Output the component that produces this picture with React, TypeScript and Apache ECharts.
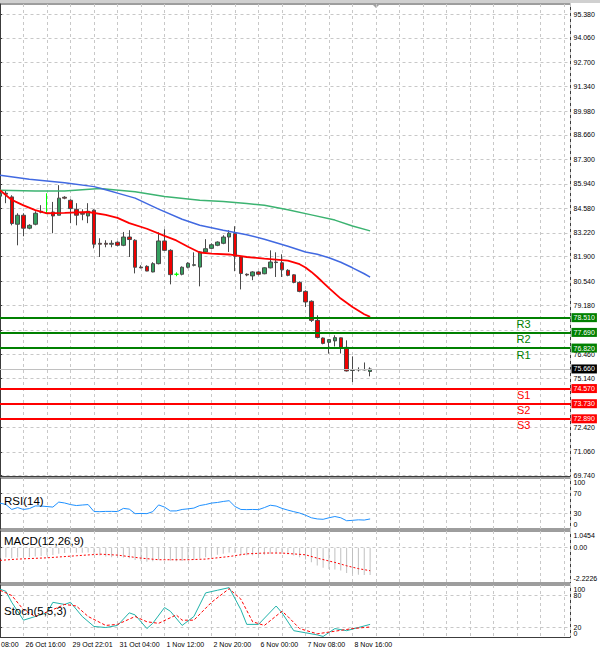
import React, { useEffect, useRef } from "react";
import * as echarts from "echarts";

const FONT = "'Liberation Sans', Arial, sans-serif";

// ---- data ----
const timeLabels = [
  "25 Oct 08:00", "26 Oct 16:00", "29 Oct 22:01", "31 Oct 04:00", "1 Nov 12:00",
  "2 Nov 20:00", "6 Nov 00:00", "7 Nov 08:00", "8 Nov 16:00",
];

const priceTicks = [95.38, 94.06, 92.7, 91.34, 89.98, 88.66, 87.3, 85.94, 84.58, 83.22, 81.9, 80.54, 79.18, 77.82, 76.46, 75.14, 73.78, 72.42, 71.06, 69.74];
const priceTicksHidden = [77.82, 73.78];

// [open, close, low, high] per H4 bar
const candles: number[][] = [
  [85.26, 85.42, 85.15, 85.65],
  [85.42, 85.37, 84.87, 85.59],
  [85.22, 83.74, 83.64, 85.31],
  [83.70, 84.20, 82.53, 84.31],
  [84.20, 83.48, 83.03, 84.31],
  [83.48, 83.64, 83.42, 83.70],
  [83.70, 84.31, 83.64, 84.42],
  [84.37, 84.42, 84.31, 84.76],
  [84.31, 84.31, 84.28, 85.42],
  [84.38, 84.16, 83.20, 84.94],
  [84.20, 85.15, 84.20, 85.87],
  [85.20, 85.15, 85.09, 85.26],
  [85.03, 84.57, 83.76, 85.09],
  [84.53, 84.20, 83.64, 84.87],
  [84.31, 84.26, 83.92, 84.53],
  [84.16, 84.42, 83.76, 84.87],
  [84.48, 82.59, 82.36, 84.53],
  [82.64, 82.59, 81.88, 82.92],
  [82.64, 82.59, 82.42, 82.81],
  [82.59, 82.64, 82.42, 82.81],
  [82.70, 82.53, 82.48, 82.75],
  [82.53, 82.99, 82.48, 83.27],
  [82.99, 82.85, 81.88, 83.37],
  [82.81, 81.31, 80.97, 82.87],
  [81.32, 81.28, 81.25, 81.42],
  [81.36, 81.10, 81.09, 81.42],
  [81.05, 81.51, 81.03, 81.59],
  [81.51, 82.77, 81.47, 83.25],
  [82.77, 82.25, 82.22, 83.42],
  [82.25, 80.90, 80.36, 82.31],
  [80.92, 80.92, 80.81, 81.03],
  [80.92, 81.31, 80.86, 81.36],
  [81.31, 81.53, 81.25, 81.59],
  [81.42, 81.45, 81.36, 82.14],
  [81.32, 82.16, 80.25, 82.20],
  [82.16, 82.34, 82.14, 82.87],
  [82.36, 82.56, 82.31, 82.64],
  [82.53, 82.71, 82.48, 82.75],
  [82.64, 82.99, 82.59, 83.09],
  [82.99, 83.20, 82.16, 83.37],
  [83.18, 81.92, 81.09, 83.59],
  [81.88, 80.96, 80.08, 81.92],
  [80.92, 80.88, 80.81, 80.97],
  [80.83, 81.05, 80.59, 81.09],
  [81.05, 80.92, 80.86, 81.09],
  [80.95, 81.28, 80.92, 81.31],
  [81.28, 81.60, 81.25, 82.25],
  [81.60, 81.57, 80.77, 82.14],
  [81.56, 81.17, 80.77, 82.03],
  [81.14, 80.86, 80.81, 81.20],
  [80.89, 80.47, 80.42, 80.92],
  [80.47, 79.97, 79.92, 80.53],
  [79.97, 79.38, 79.10, 80.03],
  [79.42, 78.36, 78.27, 79.47],
  [78.36, 77.41, 77.36, 78.64],
  [77.38, 77.08, 77.03, 77.41],
  [77.14, 77.29, 76.51, 77.30],
  [77.22, 77.40, 76.91, 77.53],
  [77.39, 76.86, 76.52, 77.41],
  [76.86, 75.55, 75.52, 77.25],
  [75.58, 75.61, 74.93, 76.36],
  [75.61, 75.63, 75.52, 75.75],
  [75.63, 75.61, 75.58, 76.02],
  [75.52, 75.66, 75.25, 75.75],
];

// moving averages as [bar, value]
const maRed: number[][] = [
  [0, 85.59], [2, 85.05], [4, 84.75], [6, 84.48], [8, 84.31], [11, 84.33], [15, 84.38], [18, 84.22],
  [20, 84.05], [22, 83.76], [25, 83.45], [28, 83.05], [30, 82.8], [32, 82.45], [34, 82.13], [36, 82.07],
  [39, 82.02], [42, 81.88], [45, 81.79], [49, 81.68], [51, 81.48], [52, 81.3], [53, 81.05], [54, 80.77],
  [56, 80.15], [58, 79.57], [60, 79.1], [62, 78.7], [63, 78.55],
];
const maBlue: number[][] = [
  [0, 86.42], [5, 86.2], [11, 86.01], [16, 85.79], [18, 85.62], [20, 85.43], [23, 85.15], [27, 84.54],
  [31, 83.98], [34, 83.64], [38, 83.37], [42, 83.12], [45, 82.87], [49, 82.48], [52, 82.16], [54, 82.03],
  [56, 81.84], [58, 81.59], [60, 81.28], [62, 80.95], [63, 80.76],
];
const maGreen: number[][] = [
  [0, 85.59], [6, 85.55], [11, 85.55], [17, 85.68], [23, 85.5], [28, 85.24], [34, 85.03], [38, 84.97],
  [42, 84.85], [45, 84.76], [49, 84.5], [53, 84.22], [57, 83.93], [60, 83.6], [63, 83.33],
];

const levelNames = ["R3", "R2", "R1", "S1", "S2", "S3"];
const levelValues = [78.51, 77.69, 76.82, 74.57, 73.73, 72.89];
const lastPrice = 75.66;

const rsiValues = [
  50.8, 48, 38.3, 42, 38.3, 40, 45.2, 45, 44, 43, 52.8, 51, 47.9, 46, 47, 47.9,
  34.2, 34, 34.5, 34.5, 34.2, 40.4, 39, 30.1, 30.5, 30.1, 34, 47.2, 43, 35.4, 35.5, 38.3,
  39.5, 41, 46, 48, 50.8, 52, 54, 55.5, 44, 38.3, 38, 38.3, 38, 42, 46.6, 45,
  40.4, 37, 34, 31.3, 27, 22, 19.7, 19, 22, 24.5, 22, 16.2, 17, 18, 17.5, 19.7,
];
const rsiRange = [0, 100];
const rsiLevels = [70, 30];

const macdHist = [
  -0.66, -0.62, -0.66, -0.62, -0.62, -0.6, -0.56, -0.52, -0.48, -0.46, -0.38, -0.33, -0.32, -0.32, -0.32, -0.3,
  -0.42, -0.5, -0.56, -0.6, -0.62, -0.62, -0.66, -0.78, -0.84, -0.88, -0.86, -0.76, -0.72, -0.82, -0.86, -0.84,
  -0.8, -0.76, -0.68, -0.6, -0.52, -0.45, -0.38, -0.3, -0.34, -0.44, -0.48, -0.48, -0.48, -0.44, -0.38, -0.36,
  -0.38, -0.42, -0.5, -0.6, -0.74, -0.92, -1.12, -1.26, -1.34, -1.38, -1.44, -1.6, -1.66, -1.7, -1.72, -1.72,
];
const macdSignal: number[][] = [
  [0, -0.8], [3, -0.72], [8, -0.64], [13, -0.51], [17, -0.41], [20, -0.47], [24, -0.66], [27, -0.76],
  [32, -0.76], [35, -0.72], [39, -0.56], [42, -0.39], [45, -0.34], [48, -0.34], [52, -0.45], [54, -0.66],
  [57, -0.93], [59, -1.14], [61, -1.32], [63, -1.45],
];
const macdRange = [-2.2226, 1.0454];
const macdLevels = [0];

const stochMain: number[][] = [
  [0, 92], [1, 88], [2, 67], [4, 33], [6, 40], [8, 47], [9, 67], [11, 63], [12, 67], [14, 40], [16, 21],
  [18, 19], [20, 23], [22, 47], [23, 43], [25, 17], [26, 27], [28, 57], [29, 50], [31, 23], [33, 40],
  [35, 85], [37, 90], [39, 95], [41, 53], [42, 25], [44, 25], [47, 60], [48, 47], [50, 13], [52, 9],
  [54, 5], [55, 2], [57, 17], [59, 13], [61, 19], [63, 25],
];
const stochSignal: number[][] = [
  [0, 90], [2, 80], [4, 53], [6, 40], [9, 53], [11, 63], [13, 60], [15, 40], [18, 23], [20, 25], [23, 40],
  [25, 30], [27, 27], [30, 43], [31, 33], [33, 33], [36, 67], [39, 93], [41, 73], [43, 30], [45, 23],
  [48, 50], [49, 40], [51, 17], [54, 7], [57, 12], [60, 17], [63, 20],
];
const stochRange = [0, 100];
const stochLevels = [80, 20];

// ---- layout ----
const BAR_PX = 5.875;
const X_MIN = -4;
const PLOT_RIGHT = 570.5;
const X_MAX = PLOT_RIGHT / BAR_PX;
const GRID_LEFT = X_MIN * BAR_PX;
const GRID_WIDTH = PLOT_RIGHT - GRID_LEFT;
const GRID_LINE = { color: "#c8c8c8", type: [3, 3] as number[], width: 1 };
const FRAME = "#3c3c3c";

export default function App() {
  const ref = useRef<HTMLDivElement>(null);

  useEffect(() => {
    if (!ref.current) return;
    const chart = echarts.init(ref.current, undefined, { renderer: "svg" });

    const gridBoxes = [
      { top: 4, height: 472.5 },
      { top: 478, height: 51 },
      { top: 531, height: 52 },
      { top: 585, height: 52.5 },
    ];
    const grid = gridBoxes.map((g) => ({
      ...g,
      left: GRID_LEFT,
      width: GRID_WIDTH,
      show: true,
      borderColor: FRAME,
      borderWidth: 1,
      backgroundColor: "transparent",
      containLabel: false,
      outerBoundsMode: "none",
    }));

    const xFormatter = (v: number) => {
      const r = Math.round(v);
      if (Math.abs(v - r) > 1e-6) return "";
      const k = (r - X_MIN) / 8;
      return Number.isInteger(k) && timeLabels[k] ? timeLabels[k] : "";
    };

    const xAxis = gridBoxes.map((_, i) => ({
      type: "value",
      gridIndex: i,
      min: X_MIN,
      max: X_MAX,
      interval: 4,
      axisLine: { show: false },
      axisTick: { show: false },
      splitLine: { show: true, lineStyle: GRID_LINE },
      axisLabel:
        i === 3
          ? {
              show: true,
              fontSize: 7,
              fontFamily: FONT,
              color: "#000",
              margin: 3,
              align: "left",
              padding: [0, 0, 0, 2],
              showMinLabel: true,
              showMaxLabel: false,
              formatter: xFormatter,
            }
          : { show: false },
    }));

    const labelBase = { fontSize: 7, fontFamily: FONT, color: "#000", margin: 3 };

    // axis that carries split lines, ticks and inner labels
    const sideAxis = (
      gridIndex: number,
      min: number,
      max: number,
      labelVals: number[],
      tickVals: number[],
      fmt: (v: number) => string
    ) => ({
      type: "value",
      gridIndex,
      position: "right",
      min,
      max,
      axisLine: { show: true, lineStyle: { color: FRAME } },
      axisTick: { show: true, length: 2, inside: false, customValues: tickVals, lineStyle: { color: FRAME } },
      splitLine: { show: true, lineStyle: GRID_LINE },
      axisLabel: { show: true, customValues: labelVals, ...labelBase, formatter: fmt },
    });

    // second axis on the same panel, only for the top / bottom scale labels (drawn inside the panel)
    const edgeAxis = (gridIndex: number, min: number, max: number, fmt: (v: number) => string) => ({
      type: "value",
      gridIndex,
      position: "right",
      min,
      max,
      axisLine: { show: false },
      axisTick: { show: false },
      splitLine: { show: false },
      axisLabel: {
        show: true,
        customValues: [min, max],
        ...labelBase,
        showMinLabel: true,
        showMaxLabel: true,
        rich: {
          t: { padding: [9, 0, 0, 0], fontSize: 7, fontFamily: FONT, color: "#000" },
          b: { padding: [0, 0, 9, 0], fontSize: 7, fontFamily: FONT, color: "#000" },
        },
        formatter: (v: number) => (Math.abs(v - max) < 1e-9 ? `{t|${fmt(v)}}` : `{b|${fmt(v)}}`),
      },
    });

    const macdFmt = (v: number) => (v === 0 ? "0.00" : v.toFixed(4));

    const yAxis = [
      sideAxis(
        0,
        69.685,
        95.936,
        priceTicks.filter((p) => !priceTicksHidden.includes(p)),
        priceTicks,
        (v) => v.toFixed(3)
      ),
      sideAxis(1, rsiRange[0], rsiRange[1], rsiLevels, rsiLevels, (v) => String(v)),
      sideAxis(2, macdRange[0], macdRange[1], macdLevels, macdLevels, macdFmt),
      sideAxis(3, stochRange[0], stochRange[1], stochLevels, stochLevels, (v) => String(v)),
      edgeAxis(1, rsiRange[0], rsiRange[1], (v) => String(v)),
      edgeAxis(2, macdRange[0], macdRange[1], macdFmt),
      edgeAxis(3, stochRange[0], stochRange[1], (v) => String(v)),
    ];

    const boxItems: any[] = [];
    const nameItems: any[] = [];
    levelNames.forEach((name, i) => {
      const v = levelValues[i];
      const col = name.startsWith("R") ? "#008000" : "#ff0000";
      boxItems.push({
        yAxis: v,
        lineStyle: { color: col, width: 2, type: "solid" },
        label: {
          show: true,
          position: "end",
          formatter: v.toFixed(3),
          backgroundColor: col,
          color: "#fff",
          fontSize: 7,
          fontFamily: FONT,
          padding: [1, 2, 1, 2],
          distance: 1,
        },
      });
      nameItems.push({
        yAxis: v,
        lineStyle: { color: "transparent", width: 0 },
        label: {
          show: true,
          position: "insideEndBottom",
          formatter: name,
          color: col,
          fontSize: 11,
          fontFamily: FONT,
          distance: [40, 1],
        },
      });
    });
    boxItems.push({
      yAxis: lastPrice,
      lineStyle: { color: "#c0c0c0", width: 1, type: "solid" },
      label: {
        show: true,
        position: "end",
        formatter: lastPrice.toFixed(3),
        backgroundColor: "#000",
        color: "#fff",
        fontSize: 7,
        fontFamily: FONT,
        padding: [1, 2, 1, 2],
        distance: 1,
      },
    });

    const line = (xi: number, data: number[][], color: string, width: number, type: any = "solid", z = 4) => ({
      type: "line",
      xAxisIndex: xi,
      yAxisIndex: xi,
      data,
      showSymbol: false,
      symbol: "none",
      smooth: false,
      lineStyle: { color, width, type },
      z,
      silent: true,
    });

    const option: any = {
      animation: false,
      backgroundColor: "#ffffff",
      textStyle: { fontFamily: FONT },
      title: [
        { text: "RSI(14)", left: 4, top: 495 },
        { text: "MACD(12,26,9)", left: 4, top: 535 },
        { text: "Stoch(5,5,3)", left: 4, top: 605 },
      ].map((t) => ({
        ...t,
        padding: 0,
        textStyle: { fontSize: 11.5, fontWeight: "normal", color: "#000", fontFamily: FONT },
      })),
      grid,
      xAxis,
      yAxis,
      graphic: [
        { type: "rect", shape: { x: 0, y: 0, width: 600, height: 3 }, style: { fill: "#d0d0d0" }, silent: true },
        {
          type: "polygon",
          shape: { points: [[372, 4], [380, 4], [376, 8]] },
          style: { fill: "#a0a0a0" },
          silent: true,
        },
      ],
      series: [
        {
          type: "candlestick",
          xAxisIndex: 0,
          yAxisIndex: 0,
          data: candles.map((c, i) => [i, ...c]),
          barWidth: 4,
          silent: true,
          itemStyle: {
            color: "#35a060",
            color0: "#f00000",
            borderColor: "#4a4a4a",
            borderColor0: "#4a4a4a",
            borderColorDoji: "#00ff00",
            borderWidth: 1,
          },
          z: 3,
          markLine: {
            silent: true,
            symbol: ["none", "none"],
            animation: false,
            data: boxItems,
            z: 5,
          },
        },
        {
          type: "line",
          xAxisIndex: 0,
          yAxisIndex: 0,
          data: [],
          silent: true,
          markLine: {
            silent: true,
            symbol: ["none", "none"],
            animation: false,
            data: nameItems,
            z: 5,
          },
        },
        line(0, maGreen, "#3cb371", 1.5),
        line(0, maBlue, "#4169e1", 1.5),
        line(0, maRed, "#ff0000", 1.8),
        line(1, rsiValues.map((v, i) => [i, v]), "#1e90ff", 1),
        {
          type: "bar",
          xAxisIndex: 2,
          yAxisIndex: 2,
          data: macdHist.map((v, i) => [i, v]),
          barWidth: 1,
          itemStyle: { color: "#c0c0c0" },
          silent: true,
          z: 2,
        },
        line(2, macdSignal, "#ff0000", 1, [2, 2]),
        line(3, stochMain, "#20b2aa", 1),
        line(3, stochSignal, "#ff0000", 1, [3, 2]),
      ],
    };

    chart.setOption(option);
    return () => chart.dispose();
  }, []);

  return (
    <div
      ref={ref}
      style={{ position: "fixed", left: 0, top: 0, width: 600, height: 652, background: "#fff" }}
    />
  );
}
